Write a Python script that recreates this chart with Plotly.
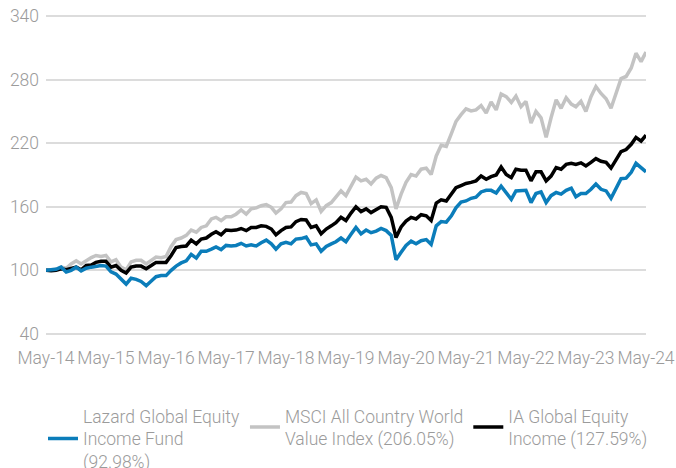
import plotly.graph_objects as go
import pandas as pd

dates = pd.date_range("2014-05-01", periods=121, freq="MS")

lazard = [100, 100.5, 101, 103, 98.5, 100, 103, 99.5, 102, 103, 104, 104.5,
          104, 98.5, 96.5, 91.5, 87, 92.5, 91.5, 89.5, 85.5, 90, 94, 95,
          95, 100, 104, 107, 109, 115, 111.5, 118, 118, 120, 122, 119.5,
          123.5, 123, 123.5, 125.5, 123, 124, 123, 126, 128.5, 125, 120, 125,
          126.5, 125, 129.5, 130, 131.5, 124, 125, 118, 122.5, 125, 127, 130.5,
          127, 134, 140.5, 134.5, 138, 135.5, 137, 139.5, 137.5, 133, 110, 117,
          123.5, 127.5, 125, 128, 129, 124.5, 142, 146, 145.5, 151.5, 159, 164.5,
          165.5, 168, 169, 174, 175.5, 175.5, 173, 179.5, 173.5, 167, 175, 175,
          175.5, 164, 172.5, 174, 164, 170.5, 173.5, 172, 175.5, 177.5, 169.5, 172.5,
          172.5, 176.5, 181.5, 176.5, 175, 168, 178, 186.5, 187, 192.5, 201, 197,
          192.98]

msci = [100, 100.5, 101, 103, 102, 106, 109, 106, 109.5, 112, 114, 113,
        114, 108, 110, 103, 100.5, 108, 109.5, 109.5, 106, 109.5, 112.5, 112,
        113, 122.5, 129, 130.5, 133, 138, 136, 140.5, 142, 148.5, 150, 147,
        150.5, 150.5, 153, 157, 153, 158, 159, 161, 162, 159.5, 154, 158,
        164, 164.5, 170.5, 173.5, 172.5, 163, 166.5, 155.5, 161, 164, 169, 175,
        170.5, 180, 188, 184.5, 186, 181.5, 187, 189.5, 187.5, 178, 158, 172,
        183, 190.5, 189, 195.5, 196.5, 190.5, 208, 218, 217, 229, 240.5, 247,
        252.5, 250.5, 251.5, 255.5, 248.5, 259, 251.5, 266.5, 264, 258.5, 264.5, 254.5,
        259.5, 239, 250, 244, 225.5, 244, 261, 253, 263, 257, 254.5, 259.5,
        250, 264, 273.5, 267, 262, 253, 267, 281, 283, 291, 305, 297,
        306.05]

ia = [100, 99.5, 100, 101.5, 100.5, 102, 103, 100.5, 104.5, 105, 107.5, 108.5,
      108.5, 103, 104.5, 100, 97.5, 103, 104, 104, 101.5, 104.5, 107.5, 107.5,
      107.5, 114, 121.5, 122.5, 123, 128.5, 125, 129.5, 130.5, 134, 136.5, 133.5,
      138, 137.5, 138, 139.5, 137.5, 140.5, 140.5, 142, 141.5, 139, 133.5, 137.5,
      140.5, 141, 146, 148, 147.5, 140.5, 142, 134.5, 139, 142, 145, 150,
      147, 154, 160, 155.5, 158, 154.5, 157.5, 160, 159.5, 150, 131, 141,
      146.5, 150, 148.5, 152.5, 151.5, 147, 163.5, 166.5, 165.5, 172, 178, 180,
      182, 183, 184.5, 189, 186, 188.5, 190, 197.5, 190.5, 187.5, 195.5, 194.5,
      194.5, 184.5, 193, 193, 184.5, 189, 197, 195.5, 200, 201, 200, 201.5,
      198.5, 202, 205.5, 203, 202, 196.5, 204, 212, 214, 219, 225.5, 222,
      227.59]

names = ["Lazard Global Equity<br>Income Fund<br>(92.98%)",
         "MSCI All Country World<br>Value Index (206.05%)",
         "IA Global Equity<br>Income (127.59%)"]
colors = ["#0b7dba", "#c3c3c3", "#000000"]
y_ticks = [40, 100, 160, 220, 280, 340]

FONT = "Roboto"
TXT = "#9b9b9b"
FS = 17.5

fig = go.Figure()
# draw order: grey, black, blue (blue on top)
fig.add_trace(go.Scatter(x=dates, y=msci, mode="lines", name=names[1],
                         line=dict(color=colors[1], width=3.5), legendrank=2))
fig.add_trace(go.Scatter(x=dates, y=ia, mode="lines", name=names[2],
                         line=dict(color=colors[2], width=3.5), legendrank=3))
fig.add_trace(go.Scatter(x=dates, y=lazard, mode="lines", name=names[0],
                         line=dict(color=colors[0], width=3.5), legendrank=1))

fig.update_layout(
    width=676, height=468,
    margin=dict(l=46, r=30, t=14, b=132, autoexpand=False),
    paper_bgcolor="white", plot_bgcolor="white",
    font=dict(family=FONT, size=FS, color=TXT, weight=300),
    showlegend=True,
    legend=dict(orientation="h", x=-0.005, xanchor="left", y=-0.192, yanchor="top",
                font=dict(family=FONT, size=FS, color=TXT, weight=300),
                valign="middle", itemwidth=30, tracegroupgap=0),
)
fig.update_xaxes(
    type="date", range=[dates[0], dates[-1]], automargin=False,
    tick0="2014-05-01", dtick="M12", tickformat="%b-%y",
    showgrid=False, zeroline=False, showline=False, ticks="",
    ticklabelstandoff=9, ticklabeloverflow="allow",
    tickfont=dict(family=FONT, size=FS, color=TXT, weight=300),
)
fig.update_yaxes(
    range=[38, 342], tickvals=y_ticks, ticktext=[str(v) for v in y_ticks],
    automargin=False,
    showgrid=True, gridcolor="#dcdcdc", gridwidth=2, zeroline=False,
    showline=False, ticks="", ticklabelstandoff=6, ticklabeloverflow="allow",
    tickfont=dict(family=FONT, size=FS, color=TXT, weight=300),
)

fig.write_html("out.html", post_script="document.body.style.margin='0';",
               config={"displayModeBar": False})
